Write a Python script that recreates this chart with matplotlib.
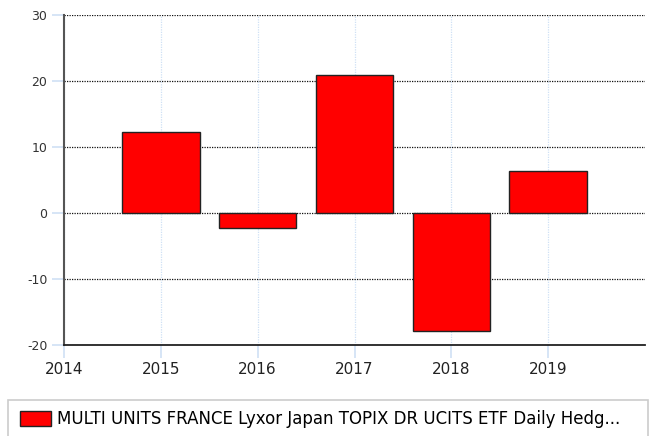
import numpy as np
import matplotlib.pyplot as plt
from matplotlib.patches import Rectangle


# data
years = [2015, 2016, 2017, 2018, 2019]
returns = [12.3, -2.2, 20.9, -17.9, 6.4]
label = 'MULTI UNITS FRANCE Lyxor Japan TOPIX DR UCITS ETF Daily Hedg...'

plt.rcParams['axes.unicode_minus'] = False

fig = plt.figure(figsize=(6.5, 4.36), dpi=100)
ax = fig.add_axes([64/650, 1 - 345/436, 581/650, 330/436])

bars = ax.bar(years, returns, width=0.8, color='#ff0000', edgecolor='#222222', linewidth=1.0, zorder=3, label=label)

ax.set_xlim(2014, 2020)
ax.set_ylim(-20, 30)
ax.set_xticks([2014, 2015, 2016, 2017, 2018, 2019])
ax.set_yticks([-20, -10, 0, 10, 20, 30])

# grid: black dotted horizontal, pale blue vertical
ax.yaxis.grid(True, color='#111111', linestyle=(0, (1, 1)), linewidth=0.9, zorder=1)
ax.xaxis.grid(True, color='#cfe0f5', linestyle=(0, (1, 1)), linewidth=0.9, zorder=1)

for s in ['top', 'right']:
    ax.spines[s].set_visible(False)
ax.spines['left'].set_color('#555555')
ax.spines['left'].set_linewidth(1.5)
ax.spines['bottom'].set_color('#222222')
ax.spines['bottom'].set_linewidth(1.3)

ax.tick_params(axis='y', colors='#cfe0f5', length=9, width=1.2, labelsize=9, labelcolor='#333333', pad=3)
ax.tick_params(axis='x', colors='#cfe0f5', length=9, width=1.2, labelsize=11, labelcolor='#222222', pad=3)

# legend box at the bottom
fig.patches.append(Rectangle((8/650, -0.05), 640/650, 0.05 + 1 - 400/436, transform=fig.transFigure,
                             facecolor='white', edgecolor='#cccccc', linewidth=1.2))
fig.legend(handles=[bars], labels=[label], loc='center left', bbox_to_anchor=(5/650, 1 - 419/436),
           frameon=False, fontsize=12, handlelength=1.85, handleheight=1.0, handletextpad=0.35)

plt.savefig('out.png', dpi=100)
